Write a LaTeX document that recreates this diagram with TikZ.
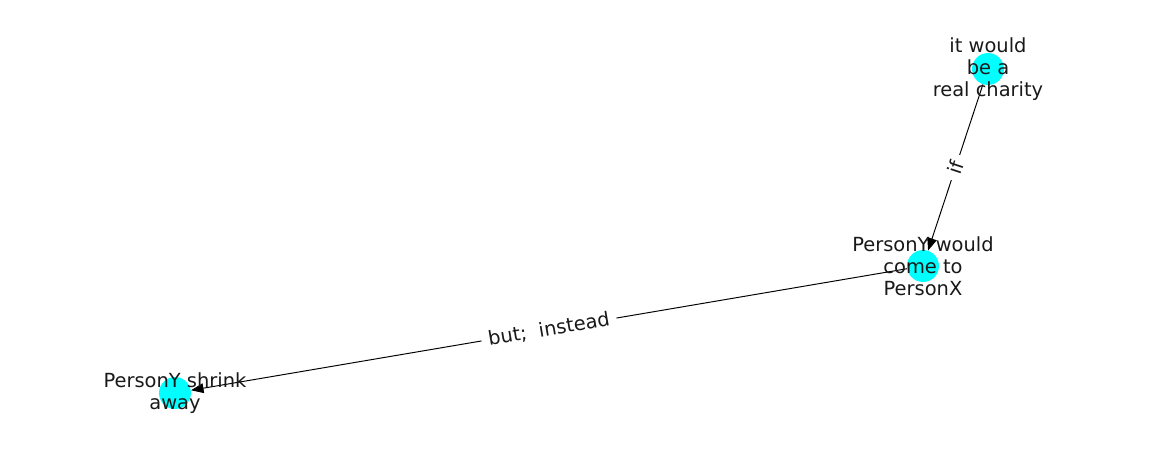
\documentclass[tikz,border=0pt]{standalone}
\usepackage{fontspec}
\setmainfont{DejaVu Sans}
\usetikzlibrary{positioning,arrows.meta}
\definecolor{nodecyan}{HTML}{00FFFF}

\begin{document}
\begin{tikzpicture}[x=0.72pt,y=-0.72pt]
  \tikzset{dot/.style={circle,fill=nodecyan,minimum size=23pt,inner sep=0pt},
    lbl/.style={align=center,font=\fontsize{14}{15.8}\selectfont,text=black!90},
    rel/.style={-{Triangle[length=9pt,width=7pt]},line width=0.7pt},
    rellbl/.style={sloped,fill=white,inner sep=5pt,font=\fontsize{14}{16}\selectfont,text=black!90}}%
  \useasboundingbox (0,0) rectangle (1162,462);
  \node[dot] (charity) at (988,69) {};
  \node[dot] (come) at (923,266) {};
  \node[dot] (shrink) at (175,393) {};
  \draw[rel] (charity) -- (come) node[pos=0.5,rellbl] {if};
  \draw[rel] (come) -- (shrink) node[pos=0.5,rellbl] {but;\ \ instead};
  \node[lbl] (charitytxt) at (988,69) {it would\\be a\\real charity};
  \node[lbl] (cometxt) at (923,266) {PersonY would\\come to\\PersonX};
  \node[lbl] (shrinktxt) at (175,393) {PersonY shrink\\away};
\end{tikzpicture}
\end{document}
